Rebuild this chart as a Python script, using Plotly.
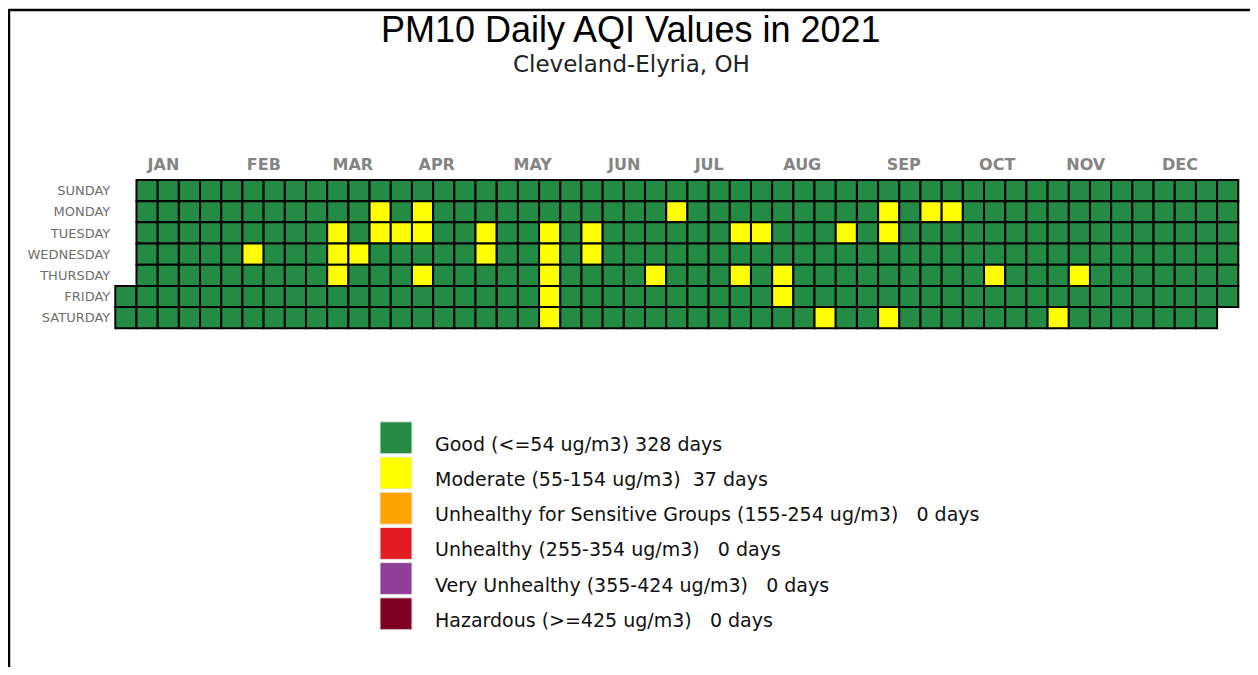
import datetime as dt
import plotly.graph_objects as go

# ---------------- data ----------------
YEAR = 2021
day_names = ["SUNDAY", "MONDAY", "TUESDAY", "WEDNESDAY", "THURSDAY", "FRIDAY", "SATURDAY"]
month_labels = ["JAN", "FEB", "MAR", "APR", "MAY", "JUN",
                "JUL", "AUG", "SEP", "OCT", "NOV", "DEC"]
categories = [
    "Good (<=54 ug/m3)",
    "Moderate (55-154 ug/m3)",
    "Unhealthy for Sensitive Groups (155-254 ug/m3)",
    "Unhealthy (255-354 ug/m3)",
    "Very Unhealthy (355-424 ug/m3)",
    "Hazardous (>=425 ug/m3)",
]
category_colors = ["#248B45", "#FFFF00", "#FFA300", "#E31B23", "#8F3F97", "#7E0023"]

# days that were not "Good" (read from the calendar)
moderate_days = [
    "2021-02-10", "2021-03-09", "2021-03-10", "2021-03-11", "2021-03-17",
    "2021-03-22", "2021-03-23", "2021-03-30", "2021-04-05", "2021-04-06",
    "2021-04-08", "2021-04-27", "2021-04-28", "2021-05-18", "2021-05-19",
    "2021-05-20", "2021-05-21", "2021-05-22", "2021-06-01", "2021-06-02",
    "2021-06-24", "2021-06-28", "2021-07-20", "2021-07-22", "2021-07-27",
    "2021-08-05", "2021-08-06", "2021-08-21", "2021-08-24", "2021-09-06",
    "2021-09-07", "2021-09-11", "2021-09-20", "2021-09-27", "2021-10-14",
    "2021-11-06", "2021-11-11",
]
usg_days = []
unhealthy_days = []
very_unhealthy_days = []
hazardous_days = []

# month label positions along the week axis (week columns)
month_tick_pos = [1.77, 6.51, 10.71, 14.67, 19.20, 23.52, 27.53, 31.92, 36.71, 41.12, 45.30, 49.75]

# ---------------- build daily grid ----------------
special = {}
for lst, cat in [(moderate_days, 1), (usg_days, 2), (unhealthy_days, 3),
                 (very_unhealthy_days, 4), (hazardous_days, 5)]:
    for s in lst:
        special[s] = cat

start = dt.date(YEAR, 1, 1)
offset = (start.weekday() + 1) % 7  # Sunday-based weekday of Jan 1
xs, ys, cs, hov = [], [], [], []
counts = [0] * len(categories)
d = start
while d.year == YEAR:
    doy = (d - start).days
    cat = special.get(d.isoformat(), 0)
    counts[cat] += 1
    xs.append((doy + offset) // 7)
    ys.append((d.weekday() + 1) % 7)
    cs.append(category_colors[cat])
    hov.append(f"{d.isoformat()}: {categories[cat]}")
    d += dt.timedelta(days=1)

n_weeks = max(xs) + 1

# ---------------- figure ----------------
PAGE_OFF = 8            # page body margin
W, H = 1242, 659


def fx(px):
    return (px - PAGE_OFF) / W


def fy(py):
    return 1 - (py - PAGE_OFF) / H


grid_left, grid_right = 115.3, 1238.3
grid_top, grid_bottom = 180.0, 328.3
cell = (grid_right - grid_left) / n_weeks

fig = go.Figure()
fig.add_trace(go.Scatter(
    x=xs, y=ys, mode="markers",
    marker=dict(symbol="square", size=cell, color=cs,
                line=dict(color="black", width=2)),
    text=hov, hoverinfo="text", cliponaxis=False, showlegend=False,
))

# legend (drawn as its own small axis)
leg_idx = list(range(len(categories)))
fig.add_trace(go.Scatter(
    x=[0] * len(categories), y=leg_idx, mode="markers",
    marker=dict(symbol="square", size=32, color=category_colors,
                line=dict(color="#e8e8e8", width=1)),
    xaxis="x2", yaxis="y2", hoverinfo="skip", cliponaxis=False, showlegend=False,
))


def esc(s):
    return s.replace("&", "&amp;").replace("<", "&lt;").replace(">", "&gt;")


annotations = []
for i, (cat, n) in enumerate(zip(categories, counts)):
    label = f"{cat} {n:3d} days".replace(" ", "\u00a0")
    annotations.append(dict(
        x=0, y=i, xref="x2", yref="y2", text=esc(label), showarrow=False,
        xanchor="left", yanchor="middle", xshift=37, yshift=-6,
        font=dict(family="DejaVu Sans", size=19, color="#111111"),
    ))

annotations.append(dict(
    x=fx(631), y=fy(30), xref="paper", yref="paper", showarrow=False,
    text="PM10 Daily AQI Values in 2021", xanchor="center", yanchor="middle",
    font=dict(family="Liberation Sans", size=36, color="black"),
))
annotations.append(dict(
    x=fx(631.5), y=fy(64), xref="paper", yref="paper", showarrow=False,
    text="Cleveland-Elyria, OH", xanchor="center", yanchor="middle",
    font=dict(family="DejaVu Sans", size=23, color="#222222"),
))

leg_pitch = 35.2
leg_c0 = 437.8
leg_top = leg_c0 - leg_pitch / 2
leg_bot = leg_c0 + (len(categories) - 1) * leg_pitch + leg_pitch / 2

fig.update_layout(
    width=W, height=H,
    margin=dict(l=0, r=0, t=0, b=0),
    paper_bgcolor="white", plot_bgcolor="white",
    annotations=annotations,
    xaxis=dict(
        domain=[fx(grid_left), fx(grid_right)],
        range=[-0.5, n_weeks - 0.5],
        side="top", tickvals=month_tick_pos,
        ticktext=[f"<b>{m}</b>" for m in month_labels],
        tickfont=dict(family="DejaVu Sans", size=16, color="#848484"),
        ticks="", showgrid=False, zeroline=False, showline=False,
        ticklabelstandoff=6, fixedrange=True,
    ),
    yaxis=dict(
        domain=[fy(grid_bottom), fy(grid_top)],
        range=[6.5, -0.5],
        tickvals=list(range(7)), ticktext=day_names,
        tickfont=dict(family="DejaVu Sans", size=13, color="#6e6e6e"),
        ticks="", showgrid=False, zeroline=False, showline=False,
        ticklabelstandoff=4, fixedrange=True,
    ),
    xaxis2=dict(
        domain=[fx(380), fx(412)], range=[-0.5, 0.5], anchor="y2",
        visible=False, fixedrange=True,
    ),
    yaxis2=dict(
        domain=[fy(leg_bot), fy(leg_top)],
        range=[len(categories) - 0.5, -0.5], anchor="x2",
        visible=False, fixedrange=True,
    ),
    shapes=[
        dict(type="line", xref="paper", yref="paper",
             x0=fx(8.5), x1=1.0, y0=fy(10), y1=fy(10),
             line=dict(color="black", width=2.5)),
        dict(type="line", xref="paper", yref="paper",
             x0=fx(9), x1=fx(9), y0=fy(9), y1=0.0,
             line=dict(color="black", width=2.5)),
    ],
    showlegend=False,
)

fig.write_html("out.html")
